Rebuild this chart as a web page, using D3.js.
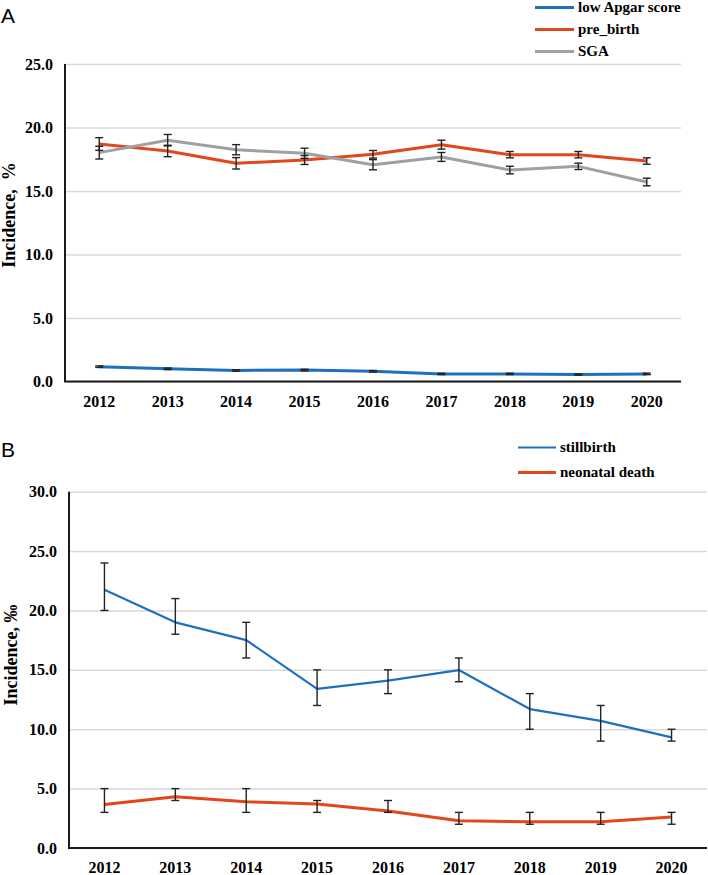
<!DOCTYPE html>
<html>
<head>
<meta charset="utf-8">
<script src="https://cdn.jsdelivr.net/npm/d3@7/dist/d3.min.js"></script>
<style>
	body { margin: 0; background: #fff; }
	.grid line { stroke: #d9d9d9; stroke-width: 1.5; }
	.grid path { display: none; }
</style>
</head>
<body>
<div id="chart"></div>
<script>
	var years = [2012, 2013, 2014, 2015, 2016, 2017, 2018, 2019, 2020];

	// panel A, %
	var lowApgar = [1.17, 1.0, 0.87, 0.9, 0.8, 0.6, 0.6, 0.55, 0.6];
	var lowApgarErr = [0.06, 0.06, 0.06, 0.06, 0.06, 0.05, 0.05, 0.05, 0.06];
	var preBirth = [18.7, 18.15, 17.18, 17.44, 17.89, 18.65, 17.86, 17.86, 17.36];
	var preBirthErr = [0.5, 0.45, 0.45, 0.35, 0.3, 0.35, 0.25, 0.25, 0.25];
	var sga = [18.02, 19.0, 18.25, 17.97, 17.07, 17.68, 16.65, 16.94, 15.71];
	var sgaErr = [0.5, 0.45, 0.4, 0.4, 0.4, 0.35, 0.3, 0.25, 0.3];
	var ticksA = [0, 5, 10, 15, 20, 25];

	// panel B, per mille
	var stillbirth = [21.74, 19.0, 17.5, 13.4, 14.1, 14.98, 11.7, 10.7, 9.32];
	var stillbirthLow = [20, 18, 16, 12, 13, 14, 10, 9, 9];
	var stillbirthHigh = [24, 21, 19, 15, 15, 16, 13, 12, 10];
	var neonatal = [3.67, 4.32, 3.9, 3.7, 3.11, 2.3, 2.2, 2.2, 2.6];
	var neonatalLow = [3, 4, 3, 3, 3, 2, 2, 2, 2];
	var neonatalHigh = [5, 5, 5, 4, 4, 3, 3, 3, 3];
	var ticksB = [0, 5, 10, 15, 20, 25, 30];

	var blue = "#1f6fc0", orange = "#e2461b", gray = "#a0a0a0";
	var serif = "'Liberation Serif', 'Times New Roman', serif";

	var svg = d3.select("#chart").append("svg")
		.attr("width", 708)
		.attr("height", 875);

	function rows(values, lows, highs) {
		return values.map(function(v, i) {
			return { year: years[i], value: v, low: lows[i], high: highs[i] };
		});
	}

	function txt(sel, size) {
		return sel.attr("font-family", serif)
			.attr("font-weight", "bold")
			.attr("font-size", size)
			.attr("fill", "#000");
	}

	function drawPanel(p) {
		var width = p.width, height = p.height;
		var g = svg.append("g")
			.attr("transform", "translate(" + p.left + "," + p.top + ")");

		var x = d3.scaleBand().domain(years).range([0, width]);
		var y = d3.scaleLinear().domain([0, d3.max(p.ticks)]).range([height, 0]);
		var cx = function(d) { return x(d.year) + x.bandwidth() / 2; };

		// gridlines
		g.append("g")
			.attr("class", "grid")
			.call(d3.axisLeft(y).tickValues(p.ticks).tickSize(-width).tickFormat(""));

		// y tick labels
		txt(g.selectAll(".ytick")
			.data(p.ticks)
			.enter().append("text")
			.attr("x", -12)
			.attr("y", function(d) { return y(d); })
			.attr("dy", "0.35em")
			.attr("text-anchor", "end"), 16)
			.text(d3.format(".1f"));

		// x labels
		txt(g.selectAll(".xtick")
			.data(years)
			.enter().append("text")
			.attr("x", function(d) { return x(d) + x.bandwidth() / 2; })
			.attr("y", height + 25)
			.attr("text-anchor", "middle"), 16)
			.text(function(d) { return d; });

		// axes lines
		g.append("line").attr("x1", 0).attr("x2", 0).attr("y1", 0).attr("y2", height)
			.attr("stroke", "#1a1a1a").attr("stroke-width", 2);
		g.append("line").attr("x1", -1).attr("x2", width).attr("y1", height).attr("y2", height)
			.attr("stroke", "#1a1a1a").attr("stroke-width", 2);

		var line = d3.line().x(cx).y(function(d) { return y(d.value); });

		p.series.forEach(function(s) {
			g.append("path")
				.datum(s.data)
				.attr("fill", "none")
				.attr("stroke", s.color)
				.attr("stroke-width", s.width)
				.attr("stroke-linejoin", "round")
				.attr("d", line);
		});

		// error bars on top
		p.series.forEach(function(s) {
			var eb = g.append("g").attr("stroke", "#222").attr("stroke-width", 1.4);
			s.data.forEach(function(d) {
				var xc = cx(d);
				eb.append("line").attr("x1", xc).attr("x2", xc).attr("y1", y(d.low)).attr("y2", y(d.high));
				eb.append("line").attr("x1", xc - 4).attr("x2", xc + 4).attr("y1", y(d.low)).attr("y2", y(d.low));
				eb.append("line").attr("x1", xc - 4).attr("x2", xc + 4).attr("y1", y(d.high)).attr("y2", y(d.high));
			});
		});

		// y title
		txt(svg.append("text")
			.attr("transform", "translate(" + p.titleX + "," + p.titleY + ") rotate(-90)")
			.attr("text-anchor", "middle")
			.style("white-space", "pre"), 18)
			.text(p.title);

		// panel letter
		svg.append("text")
			.attr("x", 1)
			.attr("y", p.letterY)
			.attr("font-family", "'Liberation Sans', Arial, sans-serif")
			.attr("font-size", 21)
			.text(p.letter);

		// legend
		p.series.forEach(function(s, i) {
			var ly = p.legendY + i * p.legendStep;
			svg.append("line")
				.attr("x1", p.legendX).attr("x2", p.legendX + p.legendLen)
				.attr("y1", ly).attr("y2", ly)
				.attr("stroke", s.color).attr("stroke-width", s.width);
			txt(svg.append("text")
				.attr("x", p.legendX + p.legendLen + 4)
				.attr("y", ly)
				.attr("dy", "0.33em"), 15)
				.text(s.name);
		});
	}

	function pm(values, errs, sign) {
		return values.map(function(v, i) { return v + sign * errs[i]; });
	}

	drawPanel({
		left: 65, top: 64, width: 616, height: 317.5,
		ticks: ticksA,
		title: "Incidence,  %", titleX: 15, titleY: 215,
		letter: "A", letterY: 23,
		legendX: 535, legendLen: 39, legendY: 7.5, legendStep: 22,
		series: [
			{ name: "low Apgar score", color: blue, width: 3, data: rows(lowApgar, pm(lowApgar, lowApgarErr, -1), pm(lowApgar, lowApgarErr, 1)) },
			{ name: "pre_birth", color: orange, width: 3, data: rows(preBirth, pm(preBirth, preBirthErr, -1), pm(preBirth, preBirthErr, 1)) },
			{ name: "SGA", color: gray, width: 3, data: rows(sga, pm(sga, sgaErr, -1), pm(sga, sgaErr, 1)) }
		]
	});

	drawPanel({
		left: 69, top: 491.7, width: 638, height: 356.3,
		ticks: ticksB,
		title: "Incidence, \u2030", titleX: 16.5, titleY: 655,
		letter: "B", letterY: 457,
		legendX: 518, legendLen: 38, legendY: 447.5, legendStep: 25,
		series: [
			{ name: "stillbirth", color: blue, width: 2.2, data: rows(stillbirth, stillbirthLow, stillbirthHigh) },
			{ name: "neonatal death", color: orange, width: 3, data: rows(neonatal, neonatalLow, neonatalHigh) }
		]
	});
</script>
</body>
</html>
